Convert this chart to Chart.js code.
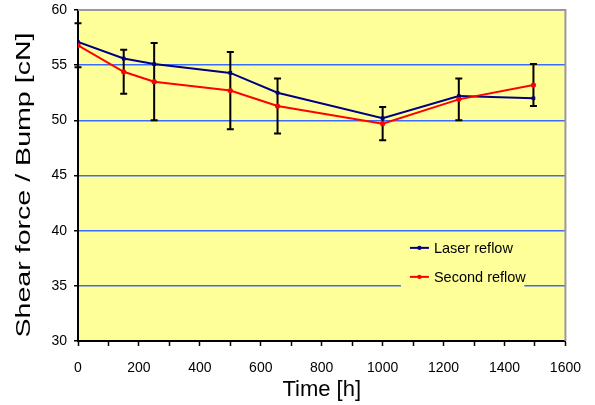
<!DOCTYPE html>
<html>
<head>
<meta charset="utf-8">
<script src="https://cdn.jsdelivr.net/npm/chart.js@4/dist/chart.umd.min.js"></script>
<style>
html,body{margin:0;padding:0;background:#fff;}
#wrap{width:595px;height:405px;position:relative;}
</style>
</head>
<body>
<div id="wrap"><canvas id="c" width="595" height="405"></canvas></div>
<script>
// ---- data ----
const hours = [0, 150, 250, 500, 655, 1000, 1250, 1495];
const laserReflow = [57.1, 55.6, 55.1, 54.3, 52.5, 50.2, 52.2, 52.0];
const secondReflow = [56.8, 54.4, 53.5, 52.7, 51.3, 49.7, 51.9, 53.2];
const secondError = [2.0, 2.0, 3.5, 3.5, 2.5, 1.5, 1.9, 1.9];
const seriesNames = ['Laser reflow', 'Second reflow'];
const xTickLabels = ['0', '200', '400', '600', '800', '1000', '1200', '1400', '1600'];
const yTickLabels = ['30', '35', '40', '45', '50', '55', '60'];
const xTitle = 'Time [h]';
const yTitle = 'Shear force / Bump [cN]';

const FONT = "'Liberation Sans', Arial, sans-serif";
const NAVY = '#000080';
const RED = '#ff0000';
const GRID = '#3a6cff';
const BG = '#ffff99';

const toPts = (ys) => ys.map((y, i) => ({x: hours[i], y: y}));

const bgPlugin = {
  id: 'plotBg',
  beforeDraw(chart) {
    const {ctx, chartArea: a} = chart;
    ctx.save();
    ctx.fillStyle = BG;
    ctx.fillRect(a.left, a.top, a.right - a.left, a.bottom - a.top);
    ctx.restore();
  },
  afterDraw(chart) {
    const {ctx, chartArea: a} = chart;
    ctx.save();
    ctx.strokeStyle = '#999999';
    ctx.lineWidth = 2;
    ctx.beginPath();
    ctx.moveTo(a.left, a.top);
    ctx.lineTo(a.right, a.top);
    ctx.lineTo(a.right, a.bottom);
    ctx.stroke();
    ctx.restore();
  }
};

const errorBarPlugin = {
  id: 'errorBars',
  beforeDatasetsDraw(chart) {
    const {ctx, scales: {x, y}} = chart;
    ctx.save();
    ctx.strokeStyle = '#000000';
    ctx.lineWidth = 2;
    for (let i = 0; i < hours.length; i++) {
      const px = x.getPixelForValue(hours[i]);
      const top = y.getPixelForValue(secondReflow[i] + secondError[i]);
      const bot = y.getPixelForValue(secondReflow[i] - secondError[i]);
      ctx.beginPath();
      ctx.moveTo(px, top); ctx.lineTo(px, bot);
      ctx.moveTo(px - 3.5, top); ctx.lineTo(px + 3.5, top);
      ctx.moveTo(px - 3.5, bot); ctx.lineTo(px + 3.5, bot);
      ctx.stroke();
    }
    ctx.restore();
  }
};

const legendPlugin = {
  id: 'insideLegend',
  afterDraw(chart) {
    const {ctx, scales: {x, y}} = chart;
    const bx0 = x.getPixelForValue(1060), bx1 = x.getPixelForValue(1465);
    const by0 = y.getPixelForValue(39.8), by1 = y.getPixelForValue(34.5);
    ctx.save();
    ctx.fillStyle = BG;
    ctx.fillRect(bx0, by0, bx1 - bx0, by1 - by0);
    const items = [
      {name: seriesNames[0], color: NAVY},
      {name: seriesNames[1], color: RED}
    ];
    const lx = bx0 + 9;
    items.forEach((it, k) => {
      const ly = by0 + 15 + k * 29;
      ctx.strokeStyle = it.color;
      ctx.lineWidth = 2;
      ctx.beginPath();
      ctx.moveTo(lx, ly); ctx.lineTo(lx + 19, ly);
      ctx.stroke();
      ctx.fillStyle = it.color;
      ctx.beginPath();
      ctx.arc(lx + 9.5, ly, 2.2, 0, Math.PI * 2);
      ctx.fill();
      ctx.fillStyle = '#000';
      ctx.font = '14.5px ' + FONT;
      ctx.textBaseline = 'middle';
      ctx.textAlign = 'left';
      ctx.fillText(it.name, lx + 24, ly + 1);
    });
    ctx.restore();
  }
};

const yTitlePlugin = {
  id: 'yTitle',
  afterDraw(chart) {
    const {ctx} = chart;
    ctx.save();
    ctx.font = '21px ' + FONT;
    const w = ctx.measureText(yTitle).width;
    const target = 305;
    ctx.translate(24, 185);
    ctx.rotate(-Math.PI / 2);
    ctx.scale(target / w, 1);
    ctx.fillStyle = '#000';
    ctx.textAlign = 'center';
    ctx.textBaseline = 'middle';
    ctx.fillText(yTitle, 0, 0);
    ctx.restore();
  }
};

new Chart(document.getElementById('c'), {
  type: 'line',
  data: {
    datasets: [
      {
        label: seriesNames[1],
        data: toPts(secondReflow),
        borderColor: RED,
        backgroundColor: RED,
        borderWidth: 2,
        pointRadius: 2.6,
        pointStyle: 'circle',
        pointBorderWidth: 0,
        tension: 0,
        order: 0
      },
      {
        label: seriesNames[0],
        data: toPts(laserReflow),
        borderColor: NAVY,
        backgroundColor: NAVY,
        borderWidth: 2,
        pointRadius: 2.6,
        pointStyle: 'rect',
        pointBorderWidth: 0,
        tension: 0,
        order: 1
      }
    ]
  },
  options: {
    responsive: false,
    animation: false,
    devicePixelRatio: 1,
    layout: {padding: {left: 0, right: 24, top: 10, bottom: 0}},
    plugins: {legend: {display: false}, tooltip: {enabled: false}},
    scales: {
      x: {
        type: 'linear',
        min: 0, max: 1600,
        afterFit(s) { s.height = 64; },
        border: {color: '#000', width: 2},
        grid: {drawOnChartArea: false, drawTicks: true, tickLength: 5, tickColor: '#000', tickWidth: 1.5},
        ticks: {
          stepSize: 100,
          padding: 14,
          color: '#000',
          font: {family: FONT, size: 14},
          maxRotation: 0,
          autoSkip: false,
          callback: (v) => (v % 200 === 0 ? xTickLabels[v / 200] : '')
        },
        title: {display: true, text: xTitle, color: '#000', font: {family: FONT, size: 22}, padding: {top: 0, bottom: 2}}
      },
      y: {
        type: 'linear',
        min: 30, max: 60,
        afterFit(s) { s.width = 78; s.paddingTop = 0; s.paddingBottom = 0; },
        border: {color: '#000', width: 2},
        grid: {
          color: (c) => (c.tick && (c.tick.value === 30 || c.tick.value === 60) ? 'rgba(0,0,0,0)' : GRID),
          lineWidth: 1.5,
          drawTicks: true,
          tickLength: 4,
          tickColor: '#000',
          tickWidth: 1.5
        },
        ticks: {
          stepSize: 5,
          padding: 7,
          color: '#000',
          font: {family: FONT, size: 14},
          callback: (v) => yTickLabels[(v - 30) / 5]
        }
      }
    }
  },
  plugins: [bgPlugin, errorBarPlugin, legendPlugin, yTitlePlugin]
});
</script>
</body>
</html>
